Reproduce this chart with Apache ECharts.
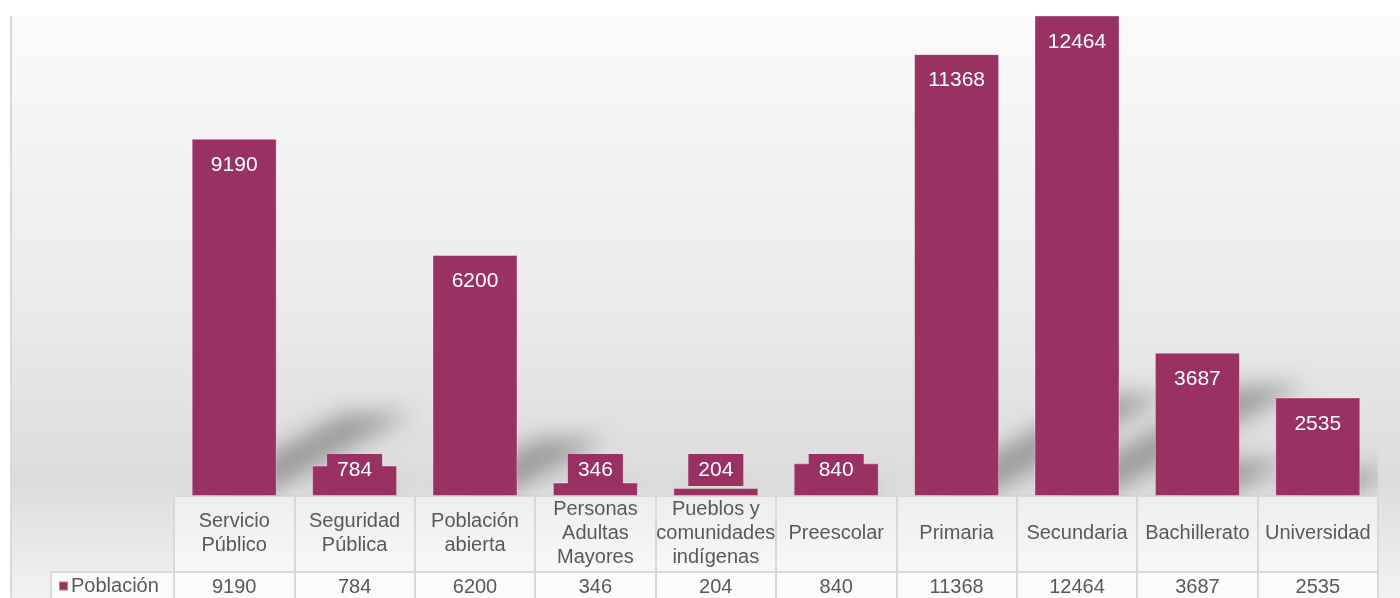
<!DOCTYPE html>
<html>
<head>
<meta charset="utf-8">
<script src="https://cdn.jsdelivr.net/npm/echarts@6/dist/echarts.min.js"></script>
<style>
html,body{margin:0;padding:0;background:#fff;}
#main{width:1400px;height:598px;}
</style>
</head>
<body>
<div id="main"></div>
<script>
const categories = ['Servicio\nPúblico', 'Seguridad\nPública', 'Población\nabierta', 'Personas\nAdultas\nMayores', 'Pueblos y\ncomunidades\nindígenas', 'Preescolar', 'Primaria', 'Secundaria', 'Bachillerato', 'Universidad'];
const values = [9190, 784, 6200, 346, 204, 840, 11368, 12464, 3687, 2535];
const seriesName = 'Población';

const BAR = '#993262';
const TXT = '#595959';
const LINE = '#d9d9d9';
const TABLE_FONT = '"Liberation Sans", Arial, sans-serif';
const LABEL_FONT = '"Liberation Sans", Arial, sans-serif';

const chart = echarts.init(document.getElementById('main'), null, {renderer: 'canvas'});

const smallLabel = {
  position: 'insideBottom',
  distance: 10,
  backgroundColor: BAR,
  padding: [6, 10, 5, 10]
};

const OFF = 3000;

const option = {
  backgroundColor: '#ffffff',
  animation: false,
  graphic: [
    {type: 'rect', z: -20, shape: {x: 12, y: 16, width: 1388, height: 582},
      style: {fill: {type: 'linear', x: 0, y: 0, x2: 0, y2: 1, colorStops: [
        {offset: 0, color: '#fafafa'}, {offset: 0.45, color: '#ececec'}, {offset: 0.8, color: '#dcdcdc'}, {offset: 1, color: '#f2f2f2'}]}}},
    {type: 'rect', z: -20, shape: {x: 0, y: 0, width: 1400, height: 16}, style: {fill: '#ffffff'}},
    {type: 'line', z: -5, shape: {x1: 11, y1: 16, x2: 11, y2: 598}, style: {stroke: LINE, lineWidth: 2}},
    {type: 'rect', z: -10, shape: {x: 174, y: 496, width: 1204, height: 76},
      style: {fill: {type: 'linear', x: 0, y: 0, x2: 0, y2: 1, colorStops: [
        {offset: 0, color: '#ededed'}, {offset: 1, color: '#f8f8f8'}]}}},
    {type: 'rect', z: -10, shape: {x: 50, y: 572, width: 1328, height: 26}, style: {fill: '#fbfbfb'}},
    {type: 'line', z: -5, shape: {x1: 50, y1: 572, x2: 174, y2: 572}, style: {stroke: LINE, lineWidth: 2}},
    {type: 'line', z: -5, shape: {x1: 51, y1: 572, x2: 51, y2: 598}, style: {stroke: LINE, lineWidth: 2}}
  ],
  legend: {
    data: [seriesName],
    left: 58, top: 576, padding: 0,
    icon: 'rect', itemWidth: 9, itemHeight: 9,
    textStyle: {fontFamily: TABLE_FONT, fontSize: 20, color: TXT, padding: [0, 0, 0, -2]}
  },
  grid: {left: 174, right: 22, top: 16, bottom: 102, containLabel: false},
  xAxis: [
    {
      type: 'category', data: categories, position: 'bottom',
      axisLine: {show: true, lineStyle: {color: LINE, width: 2}},
      axisTick: {show: true, length: 102, interval: 0, lineStyle: {color: LINE, width: 2}},
      axisLabel: {interval: 0, margin: 37, verticalAlign: 'middle', lineHeight: 24,
        fontFamily: TABLE_FONT, fontSize: 20, color: TXT, align: 'center'}
    },
    {
      type: 'category', data: values.map(String), position: 'bottom', offset: 76,
      axisLine: {show: true, lineStyle: {color: LINE, width: 2}},
      axisTick: {show: false},
      axisLabel: {interval: 0, margin: 15, verticalAlign: 'middle',
        fontFamily: TABLE_FONT, fontSize: 20, color: TXT}
    }
  ],
  yAxis: {type: 'value', min: 0, max: 12350, show: false, splitLine: {show: false}},
  series: [
    {
      type: 'custom', name: 'sombra', z: 1, clip: true, silent: true,
      data: values.map((v, i) => [i, v]),
      renderItem: function (params, api) {
        const i = api.value(0), v = api.value(1);
        const base = api.coord([i, 0]);
        const top = api.coord([i, v]);
        const w = api.size([1, 0])[0] * 0.706;
        const h = base[1] - top[1];
        const dx = 0.40 * h, dy = 0.22 * h;
        const x0 = base[0] - w / 2 - OFF, x1 = base[0] + w / 2 - OFF, y0 = base[1] - 4;
        return {
          type: 'polygon',
          shape: {points: [[x0 + 8, y0], [x1 - 8, y0], [x1 + dx - 8, y0 - dy], [x0 + dx + 8, y0 - dy]]},
          style: {fill: '#000', shadowBlur: 22, shadowColor: 'rgba(0,0,0,0.30)', shadowOffsetX: OFF}
        };
      }
    },
    {
      type: 'bar', name: seriesName, z: 3,
      barWidth: '70.6%',
      itemStyle: {color: BAR, borderColor: 'rgba(255,255,255,0.35)', borderWidth: 1},
      label: {show: true, position: 'insideTop', distance: 16, color: '#ffffff',
        fontFamily: LABEL_FONT, fontSize: 21},
      data: values.map(v => v < 1000 ? {value: v, label: smallLabel} : v)
    }
  ]
};
chart.setOption(option);
</script>
</body>
</html>
